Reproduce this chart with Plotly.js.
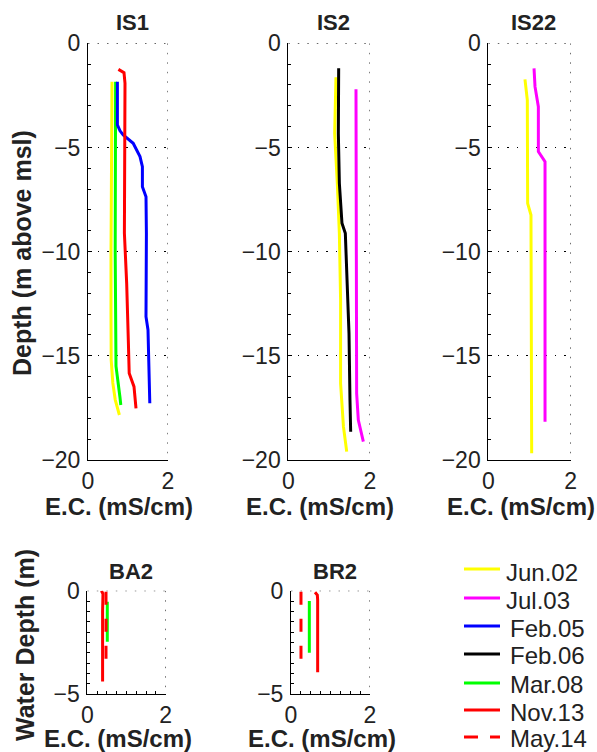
<!DOCTYPE html>
<html><head><meta charset="utf-8">
<script src="https://cdn.plot.ly/plotly-3.0.1.min.js"></script>
<style>html,body{margin:0;padding:0;background:#fff}#chart{width:597px;height:752px}</style>
</head><body><div id="chart"></div>
<script>
// ---------- data (E.C. in mS/cm, depth in m) ----------
const legendDates = ["Jun.02","Jul.03","Feb.05","Feb.06","Mar.08","Nov.13","May.14"];

// IS1
const is1_jun02_ec = [0.60,0.585,0.575,0.575,0.58,0.62,0.68,0.785];
const is1_jun02_d  = [-1.84,-5,-10,-13,-15.2,-16.3,-17.1,-17.84];
const is1_mar08_ec = [0.69,0.68,0.68,0.70,0.76,0.80,0.82];
const is1_mar08_d  = [-1.84,-5,-10,-15.5,-16.3,-17.0,-17.36];
const is1_feb05_ec = [0.735,0.735,0.80,0.88,1.13,1.30,1.36,1.36,1.45,1.46,1.45,1.50,1.545];
const is1_feb05_d  = [-1.84,-3.92,-4.2,-4.4,-4.8,-5.44,-5.92,-6.88,-7.36,-9.12,-13.12,-13.76,-17.28];
const is1_nov13_ec = [0.76,0.90,0.925,0.915,0.91,0.967,1.01,1.01,1.03,1.09,1.15,1.20];
const is1_nov13_d  = [-1.25,-1.41,-1.92,-5,-9.12,-11.52,-13.76,-14.4,-15.84,-16.16,-16.48,-17.52];

// IS2
const is2_jun02_ec = [1.167,1.135,1.20,1.25,1.28,1.28,1.35,1.43];
const is2_jun02_d  = [-1.63,-4.32,-6.72,-9.12,-12.32,-16.32,-18.4,-19.6];
const is2_feb06_ec = [1.233,1.225,1.25,1.314,1.396,1.445,1.486,1.51,1.527];
const is2_feb06_d  = [-1.2,-4.32,-6.72,-8.64,-9.12,-11.52,-13.92,-17.12,-18.64];
const is2_jul03_ec = [1.657,1.673,1.714,1.837];
const is2_jul03_d  = [-2.21,-16.8,-18.08,-19.12];

// IS22
const is22_jun02_ec = [0.89,0.947,0.955,1.036,1.053];
const is22_jun02_d  = [-1.73,-2.72,-7.68,-8.24,-19.68];
const is22_jul03_ec = [1.11,1.134,1.215,1.215,1.377,1.377];
const is22_jul03_d  = [-1.2,-2.08,-3.04,-5.2,-5.68,-18.16];

// BA2 (water depth)
const ba2_nov13_ec = [0.36,0.40,0.39,0.39];
const ba2_nov13_d  = [0,-0.15,-1,-4.4];
const ba2_may14_ec = [0.477,0.477];
const ba2_may14_d  = [-0.05,-3.43];
const ba2_mar08_ec = [0.51,0.51];
const ba2_mar08_d  = [-0.53,-2.47];

// BR2 (water depth)
const br2_nov13_ec = [0.608,0.667,0.675,0.675];
const br2_nov13_d  = [-0.08,-0.21,-0.45,-3.95];
const br2_mar08_ec = [0.464,0.464];
const br2_mar08_d  = [-0.5,-3.0];
const br2_may14_ec = [0.253,0.253];
const br2_may14_d  = [-0.05,-3.39];

const subplotTitles = ["IS1","IS2","IS22","BA2","BR2"];
const xTicks = [0,2];
const yTicksTop = [0,-5,-10,-15,-20];
const yTicksBottom = [0,-5];

// ---------- styles ----------
const colors = {"Jun.02":"#ffff00","Jul.03":"#ff00ff","Feb.05":"#0000ff","Feb.06":"#000000","Mar.08":"#00ff00","Nov.13":"#ff0000","May.14":"#ff0000"};
const dashes = {"May.14":"13px,14px"};
const FONT = "Liberation Sans, Arial, Helvetica, sans-serif";
const TXT = "#222";

const traces = [];
function add(ec, d, date, ax) {
  traces.push({
    type: "scatter", mode: "lines", x: ec, y: d,
    xaxis: "x" + (ax === 1 ? "" : ax), yaxis: "y" + (ax === 1 ? "" : ax),
    name: date, showlegend: false,
    line: {color: colors[date], width: 3, dash: dashes[date] || "solid"},
    hoverinfo: "skip"
  });
}
add(is1_jun02_ec, is1_jun02_d, "Jun.02", 1);
add(is1_mar08_ec, is1_mar08_d, "Mar.08", 1);
add(is1_feb05_ec, is1_feb05_d, "Feb.05", 1);
add(is1_nov13_ec, is1_nov13_d, "Nov.13", 1);
add(is2_jun02_ec, is2_jun02_d, "Jun.02", 2);
add(is2_feb06_ec, is2_feb06_d, "Feb.06", 2);
add(is2_jul03_ec, is2_jul03_d, "Jul.03", 2);
add(is22_jun02_ec, is22_jun02_d, "Jun.02", 3);
add(is22_jul03_ec, is22_jul03_d, "Jul.03", 3);
add(ba2_nov13_ec, ba2_nov13_d, "Nov.13", 4);
add(ba2_mar08_ec, ba2_mar08_d, "Mar.08", 4);
add(ba2_may14_ec, ba2_may14_d, "May.14", 4);
add(br2_nov13_ec, br2_nov13_d, "Nov.13", 5);
add(br2_mar08_ec, br2_mar08_d, "Mar.08", 5);
add(br2_may14_ec, br2_may14_d, "May.14", 5);

const W = 597, H = 752;
const px = v => v / W;
const py = v => 1 - v / H;
// plot boxes in pixels [left, right, top, bottom]
const boxes = [
  [88, 168, 43.3, 460],
  [288.3, 370, 43.3, 460],
  [488.3, 570.7, 43.3, 460],
  [87.3, 165.7, 590.7, 694],
  [291, 370, 590.7, 694]
];
const layout = {
  width: W, height: H, autosize: false,
  margin: {l: 0, r: 0, t: 0, b: 0, pad: 0, autoexpand: false},
  paper_bgcolor: "#fff", plot_bgcolor: "#fff",
  font: {family: FONT, size: 22, color: TXT},
  showlegend: false,
  shapes: [], annotations: []
};
boxes.forEach((b, i) => {
  const n = i + 1, s = n === 1 ? "" : String(n);
  const bottomRow = i >= 3;
  layout["xaxis" + s] = {
    domain: [px(b[0]), px(b[1])], anchor: "y" + s, range: [0, 2],
    tickvals: xTicks, ticktext: xTicks.map(String), showline: true, linecolor: "#000", linewidth: 1,
    ticks: bottomRow ? "inside" : "", ticklen: 3, tickcolor: "#000",
    minor: bottomRow ? {ticks: "inside", dtick: 0.25, ticklen: 3, tickcolor: "#000"} : undefined,
    showgrid: false, zeroline: false, fixedrange: true,
    tickfont: {family: FONT, size: 23, color: TXT}, ticklabelstandoff: 0
  };
  const yt = bottomRow ? yTicksBottom : yTicksTop;
  layout["yaxis" + s] = {
    domain: [py(b[3]), py(b[2])], anchor: "x" + s, range: bottomRow ? [-5, 0] : [-20, 0],
    tickvals: yt, ticktext: yt.map(v => v < 0 ? "\u2212" + Math.abs(v) : String(v)),
    showline: true, linecolor: "#000", linewidth: 1,
    ticks: "inside", ticklen: 4, tickcolor: "#000",
    minor: {ticks: "inside", dtick: bottomRow ? 0.5 : 1, ticklen: 3, tickcolor: "#000", showgrid: false},
    showgrid: !bottomRow, gridcolor: "#000", gridwidth: 1, griddash: "1.5px,8px",
    zeroline: false, fixedrange: true,
    tickfont: {family: FONT, size: 23, color: TXT}, ticklabelstandoff: 2
  };
  // dotted top and right edges
  const ymin = bottomRow ? -5 : -20;
  layout.shapes.push({type: "line", xref: "x" + s, yref: "y" + s, x0: 0, x1: 2, y0: 0, y1: 0,
    line: {color: "#000", width: 1, dash: "1.5px,8px"}, layer: "below"});
  layout.shapes.push({type: "line", xref: "x" + s, yref: "y" + s, x0: 2, x1: 2, y0: 0, y1: ymin,
    line: {color: "#000", width: 1, dash: "1.5px,8px"}, layer: "below"});
  // subplot title
  const cx = (b[0] + b[1]) / 2 + 4;
  layout.annotations.push({text: "<b>" + subplotTitles[i] + "</b>", xref: "paper", yref: "paper",
    x: px(cx), y: py(bottomRow ? 571 : 22.5), xanchor: "center", yanchor: "middle", showarrow: false,
    font: {family: FONT, size: 22, color: TXT}});
  // x axis title
  layout.annotations.push({text: "<b>E.C. (mS/cm)</b>", xref: "paper", yref: "paper",
    x: px(cx - 13), y: py(bottomRow ? 738 : 506), xanchor: "center", yanchor: "middle", showarrow: false,
    font: {family: FONT, size: 24, color: TXT}});
});
layout.annotations.push({text: "<b>Depth (m above msl)</b>", xref: "paper", yref: "paper",
  x: px(22), y: py(253), xanchor: "center", yanchor: "middle", textangle: -90, showarrow: false,
  font: {family: FONT, size: 25, color: TXT}});
layout.annotations.push({text: "<b>Water Depth (m)</b>", xref: "paper", yref: "paper",
  x: px(25), y: py(645), xanchor: "center", yanchor: "middle", textangle: -90, showarrow: false,
  font: {family: FONT, size: 25, color: TXT}});

// legend (drawn as paper-referenced samples + labels)
const legendLineY = [569, 598, 626, 654, 683, 710, 737];
const legendTextY = [572, 600, 628, 655, 684, 712, 738];
legendDates.forEach((date, k) => {
  layout.shapes.push({type: "line", xref: "paper", yref: "paper",
    x0: px(464), x1: px(500), y0: py(legendLineY[k]), y1: py(legendLineY[k]),
    line: {color: colors[date], width: 3, dash: date === "May.14" ? "14px,12px" : "solid"}});
  layout.annotations.push({text: date, xref: "paper", yref: "paper",
    x: px(k === 0 || k === 1 ? 504 : 508), y: py(legendTextY[k]), xanchor: "left", yanchor: "middle",
    showarrow: false, font: {family: FONT, size: 24, color: TXT}});
});

Plotly.newPlot("chart", traces, layout, {staticPlot: true, displayModeBar: false});
</script>
</body></html>
